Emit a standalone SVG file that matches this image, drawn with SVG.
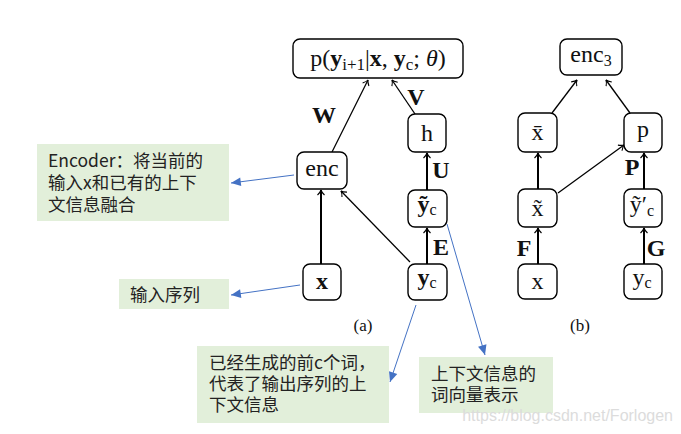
<svg xmlns="http://www.w3.org/2000/svg" width="681" height="434" viewBox="0 0 681 434">
<style>
.nb{fill:#fff;stroke:#000;stroke-width:1.4}
.m{font-family:"Liberation Serif","DejaVu Serif",serif;fill:#111;font-size:24px}
.lb{font-family:"Liberation Serif","DejaVu Serif",serif;fill:#111;font-size:24px;font-weight:bold}
.cap{font-family:"Liberation Serif","DejaVu Serif",serif;fill:#111;font-size:17px}
.note{fill:#E2EFDA}
.nt{font-family:"Microsoft YaHei","Noto Sans CJK SC",sans-serif;fill:#222;font-size:17.5px}
.c{fill:none;stroke:#000;stroke-width:1.3;marker-end:url(#ah)}
.ct{fill:none;stroke:#000;stroke-width:2;marker-end:url(#ah)}
.bl{fill:none;stroke:#4472C4;stroke-width:1;marker-end:url(#bh)}
</style>
<defs>
<marker id="ah" markerWidth="10" markerHeight="10" refX="0" refY="0" viewBox="-6 -5 8 10" orient="auto" markerUnits="userSpaceOnUse">
<path d="M-5,-3.5 Q-2,-0.5 0,0 Q-2,0.5 -5,3.5" fill="none" stroke="#000" stroke-width="1.1"/>
</marker>
<marker id="bh" markerWidth="12" markerHeight="12" refX="0" refY="0" viewBox="-10 -5 11 10" orient="auto" markerUnits="userSpaceOnUse">
<path d="M-9,-4 L0,0 L-9,4 Z" fill="#4472C4"/>
</marker>
</defs>
<rect width="681" height="434" fill="#fff"/>

<g id="connectors">
<line class="c" x1="332" y1="152" x2="368" y2="80"/>
<line class="c" x1="415" y1="114" x2="392" y2="80"/>
<line class="ct" x1="427" y1="190" x2="427" y2="153"/>
<line class="ct" x1="427" y1="264" x2="427" y2="228"/>
<line class="ct" x1="321" y1="264" x2="321" y2="190"/>
<line class="c" x1="410" y1="262" x2="341" y2="191"/>
<line class="c" x1="552" y1="113" x2="577" y2="80"/>
<line class="c" x1="630" y1="113" x2="606" y2="80"/>
<line class="ct" x1="538" y1="189" x2="538" y2="153"/>
<line class="c" x1="558" y1="193" x2="624" y2="145"/>
<line class="ct" x1="644" y1="189" x2="644" y2="153"/>
<line class="ct" x1="538" y1="264" x2="538" y2="228"/>
<line class="ct" x1="644" y1="264" x2="644" y2="228"/>
<line class="bl" x1="294" y1="175" x2="231" y2="183"/>
<line class="bl" x1="300" y1="285" x2="231" y2="295"/>
<line class="bl" x1="416" y1="305" x2="390" y2="382"/>
<line class="bl" x1="447" y1="224" x2="485" y2="355"/>
</g>

<g id="labels">
<text class="lb" x="324" y="123" text-anchor="middle">W</text>
<text class="lb" x="416" y="105" text-anchor="middle">V</text>
<text class="lb" x="441" y="178" text-anchor="middle">U</text>
<text class="lb" x="441" y="255" text-anchor="middle">E</text>
<text class="lb" x="632" y="175" text-anchor="middle">P</text>
<text class="lb" x="524" y="256" text-anchor="middle">F</text>
<text class="lb" x="656" y="256" text-anchor="middle">G</text>
<text class="cap" x="363" y="331" text-anchor="middle">(a)</text>
<text class="cap" x="580" y="331" text-anchor="middle">(b)</text>
</g>

<g id="node-p">
<rect class="nb" x="293" y="39" width="170" height="39" rx="7"/>
<text class="m" x="378" y="66" text-anchor="middle" font-size="26">p(<tspan font-weight="bold">y</tspan><tspan dy="4" font-size="17">i+1</tspan><tspan dy="-4">|</tspan><tspan font-weight="bold">x</tspan>, <tspan font-weight="bold">y</tspan><tspan dy="4" font-size="17">c</tspan><tspan dy="-4">; </tspan><tspan font-style="italic">θ</tspan>)</text>
</g>
<g id="node-enc">
<rect class="nb" x="297" y="152" width="50" height="37" rx="7"/>
<text class="m" x="322" y="176" text-anchor="middle">enc</text>
</g>
<g id="node-h">
<rect class="nb" x="408" y="114" width="38" height="38" rx="7"/>
<text class="m" x="427" y="141" text-anchor="middle">h</text>
</g>
<g id="node-yc-tilde">
<rect class="nb" x="408" y="190" width="39" height="37" rx="7"/>
<text class="m" x="427" y="212" text-anchor="middle"><tspan font-weight="bold">ỹ</tspan><tspan dy="3" font-size="16">c</tspan></text>
</g>
<g id="node-x-a">
<rect class="nb" x="303" y="264" width="38" height="36" rx="7"/>
<text class="m" x="322" y="289" text-anchor="middle" font-weight="bold">x</text>
</g>
<g id="node-yc-a">
<rect class="nb" x="408" y="264" width="39" height="36" rx="7"/>
<text class="m" x="427" y="285" text-anchor="middle"><tspan font-weight="bold">y</tspan><tspan dy="3" font-size="16">c</tspan></text>
</g>

<g id="node-enc3">
<rect class="nb" x="560" y="39" width="62" height="36" rx="7"/>
<text class="m" x="591" y="62" text-anchor="middle">enc<tspan dy="4" font-size="16">3</tspan></text>
</g>
<g id="node-x-bar">
<rect class="nb" x="518" y="113" width="39" height="39" rx="7"/>
<text class="m" x="537.5" y="140" text-anchor="middle">x̄</text>
</g>
<g id="node-p-b">
<rect class="nb" x="624" y="113" width="38" height="39" rx="7"/>
<text class="m" x="643" y="137" text-anchor="middle">p</text>
</g>
<g id="node-x-tilde">
<rect class="nb" x="518" y="189" width="39" height="38" rx="7"/>
<text class="m" x="537.5" y="216" text-anchor="middle">x̃</text>
</g>
<g id="node-yc-prime">
<rect class="nb" x="624" y="189" width="38" height="38" rx="7"/>
<text class="m" x="642" y="212" text-anchor="middle">ỹ′<tspan dy="4" font-size="16">c</tspan></text>
</g>
<g id="node-x-b">
<rect class="nb" x="518" y="264" width="39" height="35" rx="7"/>
<text class="m" x="537.5" y="289" text-anchor="middle">x</text>
</g>
<g id="node-yc-b">
<rect class="nb" x="624" y="264" width="38" height="35" rx="7"/>
<text class="m" x="642" y="285" text-anchor="middle">y<tspan dy="3" font-size="16">c</tspan></text>
</g>

<g id="note-encoder">
<rect class="note" x="37" y="144" width="192" height="77"/>
<text class="nt" x="48" y="167">Encoder：将当前的<tspan x="48" dy="22">输入x和已有的上下</tspan><tspan x="48" dy="22">文信息融合</tspan></text>
</g>
<g id="note-input">
<rect class="note" x="119" y="279" width="110" height="30"/>
<text class="nt" x="130" y="301">输入序列</text>
</g>
<g id="note-context">
<rect class="note" x="197" y="346" width="192" height="77"/>
<text class="nt" x="209" y="369">已经生成的前c个词，<tspan x="209" dy="21">代表了输出序列的上</tspan><tspan x="209" dy="21">下文信息</tspan></text>
</g>
<g id="note-vector">
<rect class="note" x="419" y="357" width="134" height="56"/>
<text class="nt" x="431" y="380">上下文信息的<tspan x="431" dy="21">词向量表示</tspan></text>
</g>
<text x="673" y="421" text-anchor="end" font-family="Liberation Sans,Arial,sans-serif" font-size="16" fill="#dcdcdc">https://blog.csdn.net/Forlogen</text>
</svg>
